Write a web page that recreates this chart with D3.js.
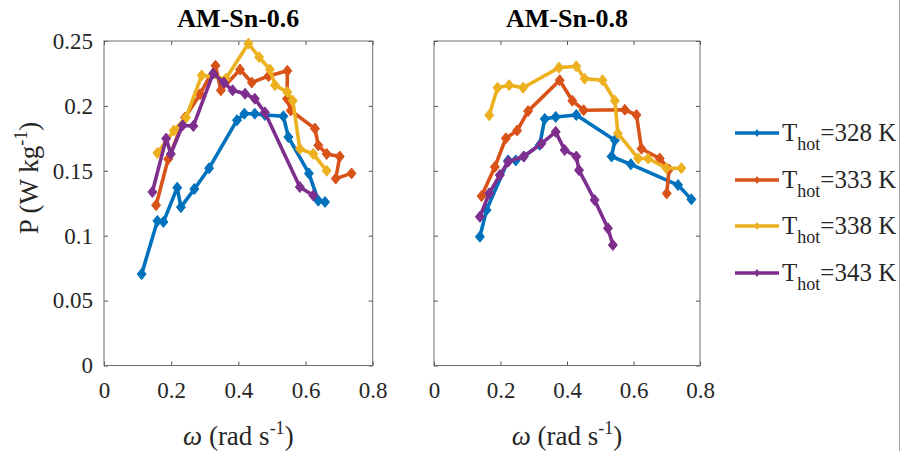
<!DOCTYPE html>
<html>
<head>
<meta charset="utf-8">
<script src="https://cdn.jsdelivr.net/npm/d3@7"></script>
<style>
  html, body { margin: 0; padding: 0; background: #fff; }
  svg { display: block; }
  svg text { font-family: "Liberation Serif", "Times New Roman", serif; }
</style>
</head>
<body>
<svg id="chart" width="904" height="451"></svg>
<script>
// Panel titles, legend temperatures and axis ticks
const panelTitles = ["AM-Sn-0.6", "AM-Sn-0.8"];
const hotTemps = [328, 333, 338, 343];
const xTicks = [0, 0.2, 0.4, 0.6, 0.8];
const yTicks = [0, 0.05, 0.1, 0.15, 0.2, 0.25];

// AM-Sn-0.6 : angular speed ω (rad/s) and specific power P (W/kg)
const sn06_328_w = [0.112, 0.159, 0.177, 0.218, 0.229, 0.269, 0.313, 0.396, 0.418, 0.449, 0.479, 0.534, 0.549, 0.610, 0.638, 0.658];
const sn06_328_P = [0.0704, 0.1114, 0.1106, 0.137, 0.122, 0.136, 0.152, 0.189, 0.194, 0.194, 0.193, 0.192, 0.176, 0.148, 0.127, 0.126];
const sn06_333_w = [0.155, 0.191, 0.241, 0.286, 0.332, 0.348, 0.405, 0.440, 0.490, 0.546, 0.545, 0.556, 0.628, 0.638, 0.663, 0.702, 0.690, 0.737];
const sn06_333_P = [0.1235, 0.159, 0.191, 0.209, 0.231, 0.212, 0.228, 0.218, 0.223, 0.227, 0.2055, 0.1965, 0.1825, 0.1696, 0.163, 0.161, 0.144, 0.148];
const sn06_338_w = [0.159, 0.208, 0.244, 0.291, 0.363, 0.430, 0.462, 0.494, 0.509, 0.546, 0.562, 0.583, 0.623, 0.663];
const sn06_338_P = [0.1637, 0.181, 0.191, 0.2235, 0.221, 0.248, 0.2375, 0.228, 0.216, 0.2106, 0.204, 0.167, 0.163, 0.150];
const sn06_343_w = [0.144, 0.185, 0.199, 0.234, 0.266, 0.325, 0.357, 0.383, 0.420, 0.449, 0.479, 0.583, 0.623];
const sn06_343_P = [0.1337, 0.1748, 0.163, 0.185, 0.1845, 0.225, 0.218, 0.212, 0.2094, 0.2055, 0.195, 0.1375, 0.131];

// AM-Sn-0.8
const sn08_328_w = [0.138, 0.158, 0.223, 0.246, 0.270, 0.318, 0.333, 0.366, 0.428, 0.544, 0.534, 0.592, 0.734, 0.774];
const sn08_328_P = [0.0992, 0.1198, 0.158, 0.158, 0.161, 0.170, 0.190, 0.1915, 0.193, 0.1736, 0.161, 0.155, 0.139, 0.128];
const sn08_333_w = [0.143, 0.183, 0.216, 0.250, 0.283, 0.378, 0.416, 0.450, 0.574, 0.609, 0.624, 0.679, 0.707, 0.700];
const sn08_333_P = [0.1305, 0.153, 0.175, 0.181, 0.196, 0.2198, 0.204, 0.1967, 0.197, 0.193, 0.167, 0.1595, 0.151, 0.1326];
const sn08_338_w = [0.166, 0.191, 0.226, 0.268, 0.376, 0.428, 0.453, 0.507, 0.544, 0.553, 0.614, 0.644, 0.699, 0.744];
const sn08_338_P = [0.1928, 0.214, 0.216, 0.214, 0.2295, 0.2305, 0.221, 0.2198, 0.204, 0.1788, 0.1595, 0.1595, 0.152, 0.152];
const sn08_343_w = [0.138, 0.166, 0.198, 0.223, 0.270, 0.323, 0.366, 0.393, 0.428, 0.436, 0.483, 0.523, 0.538];
const sn08_343_P = [0.1146, 0.1326, 0.1467, 0.157, 0.161, 0.171, 0.180, 0.166, 0.161, 0.1505, 0.1275, 0.1057, 0.0928];

// Line colours (MATLAB default order)
const colors = ["#0072BD", "#D95319", "#EDB120", "#7E2F8E"];

const panels = [
  { title: panelTitles[0], x0: 104, x1: 372.7, y0: 365.5, y1: 41, yLabels: true,
    series: [[sn06_328_w, sn06_328_P], [sn06_333_w, sn06_333_P], [sn06_338_w, sn06_338_P], [sn06_343_w, sn06_343_P]] },
  { title: panelTitles[1], x0: 434, x1: 700, y0: 365.5, y1: 41, yLabels: false,
    series: [[sn08_328_w, sn08_328_P], [sn08_333_w, sn08_333_P], [sn08_338_w, sn08_338_P], [sn08_343_w, sn08_343_P]] }
];

const svg = d3.select("#chart");
const axisColor = "#262626";
const serif = "Liberation Serif";

function diamond(hw, hh) {
  return `M0,${-hh}L${hw},0L0,${hh}L${-hw},0Z`;
}

function styleAxis(a) {
  a.attr("font-family", serif).attr("font-size", 23);
  a.select(".domain").remove();
  a.selectAll("text").attr("fill", axisColor);
  a.selectAll(".tick line").attr("stroke", axisColor).attr("stroke-width", 0.8);
}

panels.forEach(p => {
  const x = d3.scaleLinear().domain([0, 0.8]).range([p.x0, p.x1]);
  const y = d3.scaleLinear().domain([0, 0.25]).range([p.y0, p.y1]);
  const g = svg.append("g");

  // Axes: ticks pointing inwards, mirrored on the opposite side
  const tl = 4;
  g.append("g").attr("transform", `translate(0,${p.y0})`)
    .call(d3.axisBottom(x).tickValues(xTicks).tickSize(-tl).tickFormat(d3.format("~g")).tickPadding(12))
    .call(styleAxis)
    .call(a => a.selectAll("text").attr("dy", "0.9em"));
  g.append("g").attr("transform", `translate(0,${p.y1})`)
    .call(d3.axisTop(x).tickValues(xTicks).tickSize(-tl).tickFormat(""))
    .call(styleAxis);
  g.append("g").attr("transform", `translate(${p.x0},0)`)
    .call(d3.axisLeft(y).tickValues(yTicks).tickSize(-tl).tickFormat(p.yLabels ? d3.format("~g") : "").tickPadding(11))
    .call(styleAxis);
  g.append("g").attr("transform", `translate(${p.x1},0)`)
    .call(d3.axisRight(y).tickValues(yTicks).tickSize(-tl).tickFormat(""))
    .call(styleAxis);

  g.append("rect")
    .attr("x", p.x0).attr("y", p.y1)
    .attr("width", p.x1 - p.x0).attr("height", p.y0 - p.y1)
    .attr("fill", "none").attr("stroke", "#6e6e6e").attr("stroke-width", 1);

  // Title
  g.append("text")
    .attr("x", (p.x0 + p.x1) / 2).attr("y", 27)
    .attr("text-anchor", "middle").attr("font-weight", "bold").attr("font-size", 26)
    .attr("fill", "#000").text(p.title);

  // x-axis label ω (rad s⁻¹)
  const xl = g.append("text")
    .attr("x", (p.x0 + p.x1) / 2).attr("y", 445)
    .attr("text-anchor", "middle").attr("font-size", 27).attr("fill", axisColor);
  xl.append("tspan").attr("font-style", "italic").text("ω");
  xl.append("tspan").text(" (rad s");
  xl.append("tspan").attr("font-size", 18).attr("dy", -11).text("-1");
  xl.append("tspan").attr("dy", 11).text(")");

  // Series
  const line = d3.line().x(d => x(d[0])).y(d => y(d[1]));
  p.series.forEach((s, i) => {
    const pts = s[0].map((w, k) => [w, s[1][k]]);
    g.append("path").datum(pts)
      .attr("d", line).attr("fill", "none")
      .attr("stroke", colors[i]).attr("stroke-width", 3.6)
      .attr("stroke-linejoin", "round");
    g.selectAll(null).data(pts).enter().append("path")
      .attr("transform", d => `translate(${x(d[0])},${y(d[1])})`)
      .attr("d", diamond(4.5, 5.5))
      .attr("fill", colors[i]).attr("stroke", colors[i]).attr("stroke-width", 1);
  });
});

// y-axis label P (W kg⁻¹)
const yl = svg.append("text")
  .attr("transform", "translate(38,178) rotate(-90)")
  .attr("text-anchor", "middle").attr("font-size", 27).attr("fill", axisColor);
yl.append("tspan").text("P (W kg");
yl.append("tspan").attr("font-size", 18).attr("dy", -11).text("-1");
yl.append("tspan").attr("dy", 11).text(")");

// Legend
const legend = svg.append("g");
const legendY = [133, 180, 226, 273];
hotTemps.forEach((t, i) => {
  const ly = legendY[i];
  legend.append("line")
    .attr("x1", 735).attr("x2", 779).attr("y1", ly).attr("y2", ly)
    .attr("stroke", colors[i]).attr("stroke-width", 3.6);
  legend.append("path")
    .attr("transform", `translate(757,${ly})`)
    .attr("d", diamond(3, 4)).attr("fill", colors[i]);
  const tx = legend.append("text")
    .attr("x", 782).attr("y", ly + 8)
    .attr("font-size", 25).attr("fill", axisColor);
  tx.append("tspan").text("T");
  tx.append("tspan").attr("font-size", 18).attr("dy", 9).text("hot");
  tx.append("tspan").attr("dy", -9).text(`=${t} K`);
});

// Right frame edge of the legend box
svg.append("line")
  .attr("x1", 899.5).attr("x2", 899.5).attr("y1", 0).attr("y2", 451)
  .attr("stroke", "#a0a0a0").attr("stroke-width", 1);
</script>
</body>
</html>
